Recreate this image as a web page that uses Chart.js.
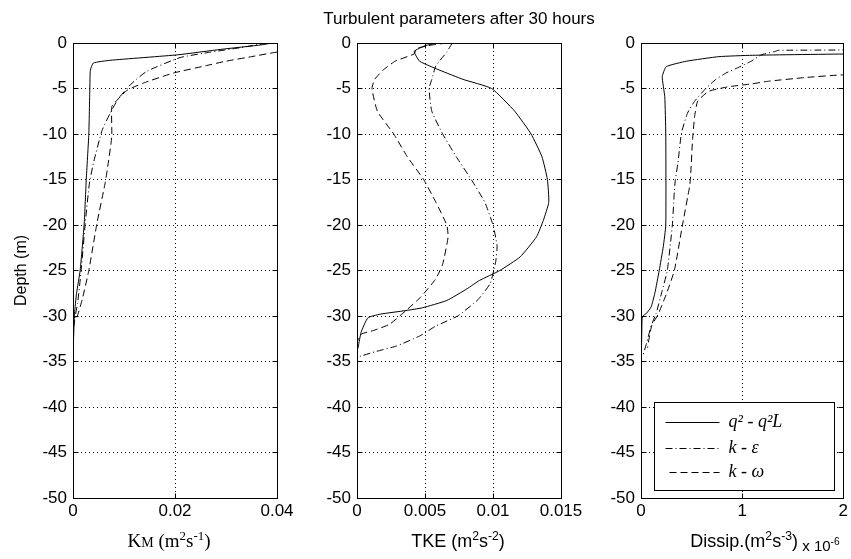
<!DOCTYPE html>
<html>
<head>
<meta charset="utf-8">
<title>Turbulent parameters after 30 hours</title>
<script src="https://cdn.jsdelivr.net/npm/chart.js@4.4.0/dist/chart.umd.min.js"></script>
<style>
  body { margin: 0; background: #fff; }
  #fig { position: relative; width: 851px; height: 559px; overflow: hidden; font-family: 'Liberation Sans', Arial, sans-serif; color: #000; }
  canvas { position: absolute; top: 0; }
  .lbl { position: absolute; white-space: nowrap; line-height: 1; }
  .lbl sup { font-size: 68%; line-height: 0; vertical-align: 0.55em; }
  .serif { font-family: 'Liberation Serif', 'Times New Roman', serif; }
</style>
</head>
<body>
<div id="fig">
  <canvas id="km-chart" width="300" height="559" style="left:0px"></canvas>
  <canvas id="tke-chart" width="290" height="559" style="left:300px"></canvas>
  <canvas id="diss-chart" width="261" height="559" style="left:590px"></canvas>

  <div class="lbl" style="left:459px; top:10px; font-size:17px; transform:translateX(-50%);">Turbulent parameters after 30 hours</div>
  <div class="lbl serif" style="left:169px; top:531px; font-size:19px; transform:translateX(-50%);">K<span style="font-size:14px">M</span> (m<sup>2</sup>s<sup>-1</sup>)</div>
  <div class="lbl" style="left:458px; top:532px; font-size:18px; transform:translateX(-50%);">TKE (m<sup>2</sup>s<sup>-2</sup>)</div>
  <div class="lbl" style="left:765px; top:532px; font-size:18px; transform:translateX(-50%);">Dissip.(m<sup>2</sup>s<sup>-3</sup>)<span style="font-size:15px; position:relative; top:4px;"> x 10<sup>-6</sup></span></div>
</div>

<script>
'use strict';

// *************** DATA
const depthTicks = [0, -5, -10, -15, -20, -25, -30, -35, -40, -45, -50];
const kmTicks = [0, 0.02, 0.04];
const tkeTicks = [0, 0.005, 0.01, 0.015];
const dissTicks = [0, 1, 2];
const seriesNames = ['q² - q²L', 'k - ε', 'k - ω'];

// each point is [value, depth]
const kmQ2 = [[0.039, 0], [0.037, -0.2], [0.029, -0.7], [0.0205, -1.3], [0.0073, -1.9], [0.004, -2.2],
  [0.0034, -3], [0.0033, -5], [0.0031, -10], [0.0026, -15], [0.0022, -19.8], [0.0014, -25],
  [0.0007, -27.5], [0.0003, -29.7], [0.0001, -32.6], [0, -33.5], [0, -50]];
const kmKe = [[0.038, 0], [0.033, -0.5], [0.027, -1], [0.021, -1.6], [0.0145, -3.1], [0.0116, -4.4],
  [0.0089, -6.1], [0.0073, -7.7], [0.0057, -9.6], [0.004, -13.2], [0.0032, -15.5], [0.0024, -19.8],
  [0.0016, -25], [0.0009, -28.6], [0.0003, -30.4], [0, -32], [0, -50]];
const kmKw = [[0.055, 0], [0.04, -1], [0.035, -1.5], [0.03, -2], [0.026, -2.5], [0.0197, -3.3],
  [0.0138, -4.4], [0.0106, -5.2], [0.0086, -6.3], [0.0076, -7], [0.0076, -10.3], [0.0067, -14],
  [0.0063, -15.4], [0.0047, -19.8], [0.0031, -25], [0.0018, -28.2], [0.0008, -30.1], [0, -31], [0, -50]];

const tkeQ2 = [[0.0059, 0], [0.005, -0.3], [0.0042, -0.9], [0.0043, -1.3], [0.0046, -2], [0.0053, -2.5],
  [0.0061, -3], [0.0078, -4], [0.0099, -5], [0.0116, -7.5], [0.0128, -10], [0.0136, -12.5],
  [0.014, -15], [0.0141, -17.5], [0.0137, -19.5], [0.0132, -21.3], [0.012, -23.5], [0.0105, -25],
  [0.009, -26.1], [0.0081, -27], [0.0066, -28.3], [0.0048, -29.1], [0.0036, -29.4], [0.0017, -29.8],
  [0.0008, -30.2], [0.0003, -31.8], [0.0001, -33.3], [0, -34], [0, -50]];
const tkeKe = [[0.007, 0], [0.0066, -1], [0.0058, -2.5], [0.0055, -4], [0.0053, -5], [0.0055, -7.5],
  [0.0063, -10], [0.0073, -12.5], [0.0084, -15], [0.0094, -17.5], [0.01, -20], [0.0103, -22.3],
  [0.0102, -24], [0.0098, -26.4], [0.0089, -28.2], [0.0074, -30], [0.0058, -31.1], [0.0046, -32.2],
  [0.0029, -33.3], [0.0014, -33.9], [0.0003, -34.4], [0, -34.6], [0, -50]];
const tkeKw = [[0.0066, 0], [0.0056, -0.2], [0.0044, -0.6], [0.0042, -1.2], [0.0028, -2], [0.0019, -3],
  [0.0013, -4], [0.0011, -5], [0.0015, -7.5], [0.0027, -10], [0.0037, -12.5], [0.0049, -15],
  [0.0058, -17.5], [0.0066, -20], [0.0067, -21.3], [0.0063, -24.3], [0.0058, -25.9], [0.0047, -27.9],
  [0.0036, -29.4], [0.0024, -30.9], [0.0012, -31.6], [0.0003, -32], [0, -33], [0, -50]];

const dissQ2 = [[4, -1.1], [2.1, -1.2], [1.1, -1.35], [0.77, -1.5], [0.45, -2], [0.25, -2.6],
  [0.21, -3.7], [0.235, -5.9], [0.245, -10], [0.245, -20], [0.22, -22.4], [0.18, -25],
  [0.137, -27.5], [0.1, -29], [0.055, -29.7], [0.017, -30], [0.01, -30.5], [0.005, -33.3], [0, -33.6]];
const dissKe = [[4, -0.72], [1.36, -0.8], [1.32, -0.95], [1.19, -1.3], [1.09, -2], [0.96, -2.7],
  [0.84, -3.3], [0.74, -4], [0.64, -5], [0.53, -6.4], [0.46, -7.7], [0.4, -9.9], [0.365, -13.2],
  [0.34, -15], [0.33, -16.2], [0.31, -20], [0.26, -25], [0.21, -27.2], [0.15, -29.7], [0.1, -31.1],
  [0.055, -33], [0.02, -34.3]];
const dissKw = [[4, -3.2], [2.0, -3.5], [1.62, -3.8], [1.26, -4.2], [1.09, -4.5], [0.87, -4.8],
  [0.67, -5.3], [0.56, -6.4], [0.53, -8.1], [0.51, -10.6], [0.49, -14.7], [0.48, -15.8],
  [0.41, -20], [0.33, -25], [0.25, -27.6], [0.17, -29.8], [0.105, -31.1], [0.07, -33.1], [0.065, -33.5]];

// *************** STYLE
const lineDashes = [[], [7, 3, 1, 3], [7, 4]];
Chart.defaults.font.family = "'Liberation Sans', Arial, sans-serif";
Chart.defaults.color = '#000';

function align(p) {
  return Math.round(p - 0.5) + 0.5;
}

// matlab style box with inward ticks on all four sides
const boxPlugin = {
  id: 'box',
  afterDraw(chart) {
    const { ctx, chartArea, scales } = chart;
    const l = align(chartArea.left), r = align(chartArea.right);
    const t = align(chartArea.top), b = align(chartArea.bottom);
    ctx.save();
    ctx.strokeStyle = '#000';
    ctx.lineWidth = 1;
    ctx.setLineDash([]);
    ctx.beginPath();
    scales.x.ticks.forEach(tk => {
      const px = align(scales.x.getPixelForValue(tk.value));
      ctx.moveTo(px, b); ctx.lineTo(px, b - 5);
      ctx.moveTo(px, t); ctx.lineTo(px, t + 5);
    });
    scales.y.ticks.forEach(tk => {
      const py = align(scales.y.getPixelForValue(tk.value));
      ctx.moveTo(l, py); ctx.lineTo(l + 5, py);
      ctx.moveTo(r, py); ctx.lineTo(r - 5, py);
    });
    ctx.stroke();
    ctx.strokeRect(l, t, r - l, b - t);
    ctx.restore();
  }
};

const legendPlugin = {
  id: 'boxLegend',
  afterDraw(chart) {
    const { ctx, chartArea } = chart;
    const x0 = align(chartArea.left + 13), y0 = align(chartArea.top + 359);
    ctx.save();
    ctx.fillStyle = '#fff';
    ctx.fillRect(x0, y0, 180, 88);
    ctx.strokeStyle = '#000';
    ctx.lineWidth = 1;
    ctx.setLineDash([]);
    ctx.strokeRect(x0, y0, 180, 88);
    const rows = [19, 45, 69];
    ctx.font = "italic 18px 'Liberation Serif', 'Times New Roman', serif";
    ctx.fillStyle = '#000';
    ctx.textBaseline = 'middle';
    for (let i = 0; i < seriesNames.length; i++) {
      const y = Math.round(y0 + rows[i]) + 0.5;
      ctx.setLineDash(lineDashes[i]);
      ctx.beginPath();
      ctx.moveTo(x0 + (i === 2 ? 15 : 11), y);
      ctx.lineTo(x0 + 65, y);
      ctx.stroke();
      ctx.fillText(seriesNames[i], x0 + 74, y);
    }
    ctx.restore();
  }
};

function makePanel(id, yWidth, padRight, xMax, xTicks, series, extra, yTitle) {
  const ctx = document.getElementById(id);
  return new Chart(ctx, {
    type: 'scatter',
    data: {
      datasets: series.map((s, i) => ({
        label: seriesNames[i],
        data: s.map(p => ({ x: p[0], y: p[1] })),
        showLine: true,
        borderColor: '#000',
        borderWidth: 1,
        borderDash: lineDashes[i],
        pointRadius: 0,
        tension: 0.15,
        fill: false
      }))
    },
    options: {
      responsive: false,
      animation: false,
      devicePixelRatio: 1,
      layout: { padding: { top: 43, right: padRight, bottom: 31, left: 0 } },
      plugins: { legend: { display: false }, tooltip: { enabled: false } },
      scales: {
        x: {
          type: 'linear',
          min: 0,
          max: xMax,
          afterBuildTicks: s => { s.ticks = xTicks.map(v => ({ value: v })); },
          afterFit: s => { s.height = 30; },
          ticks: { padding: 3, font: { size: 17 }, maxRotation: 0, autoSkip: false, callback: v => String(v) },
          grid: { color: '#000', lineWidth: 1, drawTicks: false },
          border: { display: false, dash: [1, 3] }
        },
        y: {
          type: 'linear',
          min: -50,
          max: 0,
          afterBuildTicks: s => { s.ticks = depthTicks.map(v => ({ value: v })); },
          afterFit: s => { s.width = yWidth; },
          title: { display: !!yTitle, text: yTitle || '', font: { size: 16 }, padding: { top: 12, bottom: 0 } },
          ticks: { padding: 6, font: { size: 17 }, autoSkip: false, callback: v => String(v) },
          grid: { color: '#000', lineWidth: 1, drawTicks: false },
          border: { display: false, dash: [1, 3] }
        }
      }
    },
    plugins: [boxPlugin].concat(extra || [])
  });
}

// *************** EXECUTABLE CODE
makePanel('km-chart', 73, 23, 0.04, kmTicks, [kmQ2, kmKe, kmKw], [], 'Depth (m)');
makePanel('tke-chart', 57, 29, 0.015, tkeTicks, [tkeQ2, tkeKe, tkeKw]);
makePanel('diss-chart', 51, 6, 2, dissTicks, [dissQ2, dissKe, dissKw], [legendPlugin]);
</script>
</body>
</html>
